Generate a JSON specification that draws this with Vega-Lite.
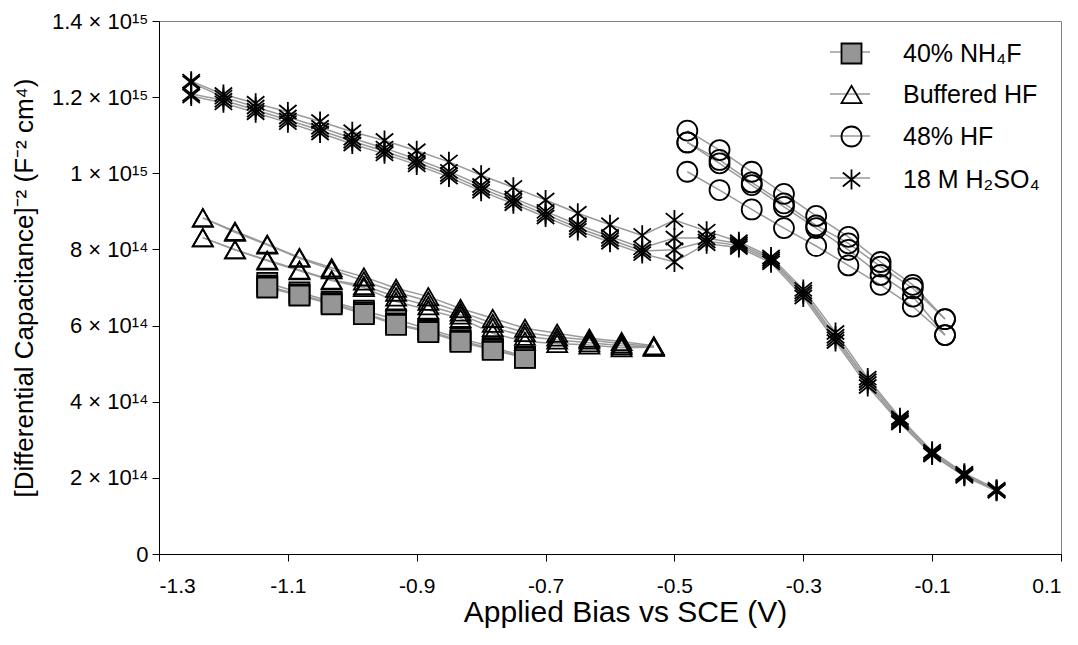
{
  "$schema": "https://vega.github.io/schema/vega-lite/v6.json",
  "width": 902,
  "height": 533,
  "autosize": {"type": "none"},
  "padding": {"left": 159, "top": 21, "right": 17, "bottom": 91},
  "background": "white",
  "config": {
    "font": "Liberation Sans",
    "view": {"stroke": "#808080", "strokeWidth": 1},
    "axis": {
      "grid": false,
      "domainColor": "black",
      "tickColor": "black",
      "labelColor": "black",
      "titleColor": "black",
      "labelFont": "Liberation Sans",
      "titleFont": "Liberation Sans",
      "titleFontWeight": "normal",
      "labelFontSize": 21,
      "titleFontSize": 26,
      "tickSize": 7,
      "domainWidth": 1,
      "tickWidth": 1
    },
    "legend": {"labelFont": "Liberation Sans", "labelColor": "black"}
  },
  "data": {
    "values": [
      {"series": "40% NH₄F", "sweep": "Q1", "bias": -1.132, "value": 7.12e14},
      {"series": "40% NH₄F", "sweep": "Q1", "bias": -1.082, "value": 6.87e14},
      {"series": "40% NH₄F", "sweep": "Q1", "bias": -1.032, "value": 6.63e14},
      {"series": "40% NH₄F", "sweep": "Q1", "bias": -0.982, "value": 6.39e14},
      {"series": "40% NH₄F", "sweep": "Q1", "bias": -0.932, "value": 6.16e14},
      {"series": "40% NH₄F", "sweep": "Q1", "bias": -0.882, "value": 5.91e14},
      {"series": "40% NH₄F", "sweep": "Q1", "bias": -0.832, "value": 5.66e14},
      {"series": "40% NH₄F", "sweep": "Q1", "bias": -0.782, "value": 5.44e14},
      {"series": "40% NH₄F", "sweep": "Q1", "bias": -0.732, "value": 5.18e14},
      {"series": "40% NH₄F", "sweep": "Q2", "bias": -1.132, "value": 7.04e14},
      {"series": "40% NH₄F", "sweep": "Q2", "bias": -1.082, "value": 6.81e14},
      {"series": "40% NH₄F", "sweep": "Q2", "bias": -1.032, "value": 6.59e14},
      {"series": "40% NH₄F", "sweep": "Q2", "bias": -0.982, "value": 6.34e14},
      {"series": "40% NH₄F", "sweep": "Q2", "bias": -0.932, "value": 6.05e14},
      {"series": "40% NH₄F", "sweep": "Q2", "bias": -0.882, "value": 5.86e14},
      {"series": "40% NH₄F", "sweep": "Q2", "bias": -0.832, "value": 5.60e14},
      {"series": "40% NH₄F", "sweep": "Q2", "bias": -0.782, "value": 5.39e14},
      {"series": "40% NH₄F", "sweep": "Q2", "bias": -0.732, "value": 5.16e14},
      {"series": "40% NH₄F", "sweep": "Q3", "bias": -1.132, "value": 7.00e14},
      {"series": "40% NH₄F", "sweep": "Q3", "bias": -1.082, "value": 6.79e14},
      {"series": "40% NH₄F", "sweep": "Q3", "bias": -1.032, "value": 6.56e14},
      {"series": "40% NH₄F", "sweep": "Q3", "bias": -0.982, "value": 6.30e14},
      {"series": "40% NH₄F", "sweep": "Q3", "bias": -0.932, "value": 6.02e14},
      {"series": "40% NH₄F", "sweep": "Q3", "bias": -0.882, "value": 5.83e14},
      {"series": "40% NH₄F", "sweep": "Q3", "bias": -0.832, "value": 5.57e14},
      {"series": "40% NH₄F", "sweep": "Q3", "bias": -0.782, "value": 5.36e14},
      {"series": "40% NH₄F", "sweep": "Q3", "bias": -0.732, "value": 5.15e14},

      {"series": "Buffered HF", "sweep": "T1", "bias": -1.232, "value": 8.83e14},
      {"series": "Buffered HF", "sweep": "T1", "bias": -1.182, "value": 8.48e14},
      {"series": "Buffered HF", "sweep": "T1", "bias": -1.132, "value": 8.14e14},
      {"series": "Buffered HF", "sweep": "T1", "bias": -1.082, "value": 7.79e14},
      {"series": "Buffered HF", "sweep": "T1", "bias": -1.032, "value": 7.52e14},
      {"series": "Buffered HF", "sweep": "T1", "bias": -0.982, "value": 7.28e14},
      {"series": "Buffered HF", "sweep": "T1", "bias": -0.932, "value": 6.98e14},
      {"series": "Buffered HF", "sweep": "T1", "bias": -0.882, "value": 6.76e14},
      {"series": "Buffered HF", "sweep": "T1", "bias": -0.832, "value": 6.45e14},
      {"series": "Buffered HF", "sweep": "T1", "bias": -0.782, "value": 6.19e14},
      {"series": "Buffered HF", "sweep": "T1", "bias": -0.732, "value": 5.93e14},
      {"series": "Buffered HF", "sweep": "T1", "bias": -0.682, "value": 5.80e14},
      {"series": "Buffered HF", "sweep": "T1", "bias": -0.632, "value": 5.67e14},
      {"series": "Buffered HF", "sweep": "T1", "bias": -0.582, "value": 5.58e14},
      {"series": "Buffered HF", "sweep": "T1", "bias": -0.532, "value": 5.47e14},
      {"series": "Buffered HF", "sweep": "T2", "bias": -1.232, "value": 8.83e14},
      {"series": "Buffered HF", "sweep": "T2", "bias": -1.182, "value": 8.45e14},
      {"series": "Buffered HF", "sweep": "T2", "bias": -1.132, "value": 8.12e14},
      {"series": "Buffered HF", "sweep": "T2", "bias": -1.082, "value": 7.77e14},
      {"series": "Buffered HF", "sweep": "T2", "bias": -1.032, "value": 7.47e14},
      {"series": "Buffered HF", "sweep": "T2", "bias": -0.982, "value": 7.17e14},
      {"series": "Buffered HF", "sweep": "T2", "bias": -0.932, "value": 6.88e14},
      {"series": "Buffered HF", "sweep": "T2", "bias": -0.882, "value": 6.64e14},
      {"series": "Buffered HF", "sweep": "T2", "bias": -0.832, "value": 6.36e14},
      {"series": "Buffered HF", "sweep": "T2", "bias": -0.782, "value": 6.06e14},
      {"series": "Buffered HF", "sweep": "T2", "bias": -0.732, "value": 5.82e14},
      {"series": "Buffered HF", "sweep": "T2", "bias": -0.682, "value": 5.70e14},
      {"series": "Buffered HF", "sweep": "T2", "bias": -0.632, "value": 5.62e14},
      {"series": "Buffered HF", "sweep": "T2", "bias": -0.582, "value": 5.52e14},
      {"series": "Buffered HF", "sweep": "T2", "bias": -0.532, "value": 5.45e14},
      {"series": "Buffered HF", "sweep": "T3", "bias": -1.232, "value": 8.31e14},
      {"series": "Buffered HF", "sweep": "T3", "bias": -1.182, "value": 7.99e14},
      {"series": "Buffered HF", "sweep": "T3", "bias": -1.132, "value": 7.72e14},
      {"series": "Buffered HF", "sweep": "T3", "bias": -1.082, "value": 7.46e14},
      {"series": "Buffered HF", "sweep": "T3", "bias": -1.032, "value": 7.20e14},
      {"series": "Buffered HF", "sweep": "T3", "bias": -0.982, "value": 7.05e14},
      {"series": "Buffered HF", "sweep": "T3", "bias": -0.932, "value": 6.75e14},
      {"series": "Buffered HF", "sweep": "T3", "bias": -0.882, "value": 6.52e14},
      {"series": "Buffered HF", "sweep": "T3", "bias": -0.832, "value": 6.28e14},
      {"series": "Buffered HF", "sweep": "T3", "bias": -0.782, "value": 5.95e14},
      {"series": "Buffered HF", "sweep": "T3", "bias": -0.732, "value": 5.72e14},
      {"series": "Buffered HF", "sweep": "T3", "bias": -0.682, "value": 5.62e14},
      {"series": "Buffered HF", "sweep": "T3", "bias": -0.632, "value": 5.55e14},
      {"series": "Buffered HF", "sweep": "T3", "bias": -0.582, "value": 5.47e14},
      {"series": "Buffered HF", "sweep": "T3", "bias": -0.532, "value": 5.44e14},
      {"series": "Buffered HF", "sweep": "T4", "bias": -1.232, "value": 8.31e14},
      {"series": "Buffered HF", "sweep": "T4", "bias": -1.182, "value": 7.99e14},
      {"series": "Buffered HF", "sweep": "T4", "bias": -1.132, "value": 7.70e14},
      {"series": "Buffered HF", "sweep": "T4", "bias": -1.082, "value": 7.44e14},
      {"series": "Buffered HF", "sweep": "T4", "bias": -1.032, "value": 7.18e14},
      {"series": "Buffered HF", "sweep": "T4", "bias": -0.982, "value": 7.00e14},
      {"series": "Buffered HF", "sweep": "T4", "bias": -0.932, "value": 6.63e14},
      {"series": "Buffered HF", "sweep": "T4", "bias": -0.882, "value": 6.41e14},
      {"series": "Buffered HF", "sweep": "T4", "bias": -0.832, "value": 6.19e14},
      {"series": "Buffered HF", "sweep": "T4", "bias": -0.782, "value": 5.80e14},
      {"series": "Buffered HF", "sweep": "T4", "bias": -0.732, "value": 5.58e14},
      {"series": "Buffered HF", "sweep": "T4", "bias": -0.682, "value": 5.53e14},
      {"series": "Buffered HF", "sweep": "T4", "bias": -0.632, "value": 5.49e14},
      {"series": "Buffered HF", "sweep": "T4", "bias": -0.582, "value": 5.42e14},
      {"series": "Buffered HF", "sweep": "T4", "bias": -0.532, "value": 5.43e14},

      {"series": "48% HF", "sweep": "C1", "bias": -0.48, "value": 11.12e14},
      {"series": "48% HF", "sweep": "C1", "bias": -0.43, "value": 10.61e14},
      {"series": "48% HF", "sweep": "C1", "bias": -0.38, "value": 10.04e14},
      {"series": "48% HF", "sweep": "C1", "bias": -0.33, "value": 9.46e14},
      {"series": "48% HF", "sweep": "C1", "bias": -0.28, "value": 8.88e14},
      {"series": "48% HF", "sweep": "C1", "bias": -0.23, "value": 8.33e14},
      {"series": "48% HF", "sweep": "C1", "bias": -0.18, "value": 7.67e14},
      {"series": "48% HF", "sweep": "C1", "bias": -0.13, "value": 7.07e14},
      {"series": "48% HF", "sweep": "C1", "bias": -0.08, "value": 6.17e14},
      {"series": "48% HF", "sweep": "C2", "bias": -0.48, "value": 10.81e14},
      {"series": "48% HF", "sweep": "C2", "bias": -0.43, "value": 10.35e14},
      {"series": "48% HF", "sweep": "C2", "bias": -0.38, "value": 9.76e14},
      {"series": "48% HF", "sweep": "C2", "bias": -0.33, "value": 9.21e14},
      {"series": "48% HF", "sweep": "C2", "bias": -0.28, "value": 8.63e14},
      {"series": "48% HF", "sweep": "C2", "bias": -0.23, "value": 8.16e14},
      {"series": "48% HF", "sweep": "C2", "bias": -0.18, "value": 7.55e14},
      {"series": "48% HF", "sweep": "C2", "bias": -0.13, "value": 6.98e14},
      {"series": "48% HF", "sweep": "C2", "bias": -0.08, "value": 6.17e14},
      {"series": "48% HF", "sweep": "C3", "bias": -0.48, "value": 10.81e14},
      {"series": "48% HF", "sweep": "C3", "bias": -0.43, "value": 10.26e14},
      {"series": "48% HF", "sweep": "C3", "bias": -0.38, "value": 9.69e14},
      {"series": "48% HF", "sweep": "C3", "bias": -0.33, "value": 9.12e14},
      {"series": "48% HF", "sweep": "C3", "bias": -0.28, "value": 8.56e14},
      {"series": "48% HF", "sweep": "C3", "bias": -0.23, "value": 7.99e14},
      {"series": "48% HF", "sweep": "C3", "bias": -0.18, "value": 7.33e14},
      {"series": "48% HF", "sweep": "C3", "bias": -0.13, "value": 6.76e14},
      {"series": "48% HF", "sweep": "C3", "bias": -0.08, "value": 5.75e14},
      {"series": "48% HF", "sweep": "C4", "bias": -0.48, "value": 10.04e14},
      {"series": "48% HF", "sweep": "C4", "bias": -0.43, "value": 9.56e14},
      {"series": "48% HF", "sweep": "C4", "bias": -0.38, "value": 9.05e14},
      {"series": "48% HF", "sweep": "C4", "bias": -0.33, "value": 8.56e14},
      {"series": "48% HF", "sweep": "C4", "bias": -0.28, "value": 8.09e14},
      {"series": "48% HF", "sweep": "C4", "bias": -0.23, "value": 7.58e14},
      {"series": "48% HF", "sweep": "C4", "bias": -0.18, "value": 7.07e14},
      {"series": "48% HF", "sweep": "C4", "bias": -0.13, "value": 6.50e14},
      {"series": "48% HF", "sweep": "C4", "bias": -0.08, "value": 5.75e14},

      {"series": "18 M H₂SO₄", "sweep": "S1", "bias": -1.25, "value": 12.42e14},
      {"series": "18 M H₂SO₄", "sweep": "S1", "bias": -1.2, "value": 12.07e14},
      {"series": "18 M H₂SO₄", "sweep": "S1", "bias": -1.15, "value": 11.84e14},
      {"series": "18 M H₂SO₄", "sweep": "S1", "bias": -1.1, "value": 11.61e14},
      {"series": "18 M H₂SO₄", "sweep": "S1", "bias": -1.05, "value": 11.36e14},
      {"series": "18 M H₂SO₄", "sweep": "S1", "bias": -1.0, "value": 11.09e14},
      {"series": "18 M H₂SO₄", "sweep": "S1", "bias": -0.95, "value": 10.86e14},
      {"series": "18 M H₂SO₄", "sweep": "S1", "bias": -0.9, "value": 10.59e14},
      {"series": "18 M H₂SO₄", "sweep": "S1", "bias": -0.85, "value": 10.30e14},
      {"series": "18 M H₂SO₄", "sweep": "S1", "bias": -0.8, "value": 9.95e14},
      {"series": "18 M H₂SO₄", "sweep": "S1", "bias": -0.75, "value": 9.63e14},
      {"series": "18 M H₂SO₄", "sweep": "S1", "bias": -0.7, "value": 9.30e14},
      {"series": "18 M H₂SO₄", "sweep": "S1", "bias": -0.65, "value": 8.95e14},
      {"series": "18 M H₂SO₄", "sweep": "S1", "bias": -0.6, "value": 8.65e14},
      {"series": "18 M H₂SO₄", "sweep": "S1", "bias": -0.55, "value": 8.37e14},
      {"series": "18 M H₂SO₄", "sweep": "S1", "bias": -0.5, "value": 8.77e14},
      {"series": "18 M H₂SO₄", "sweep": "S1", "bias": -0.45, "value": 8.48e14},
      {"series": "18 M H₂SO₄", "sweep": "S1", "bias": -0.4, "value": 8.2e14},
      {"series": "18 M H₂SO₄", "sweep": "S1", "bias": -0.35, "value": 7.8e14},
      {"series": "18 M H₂SO₄", "sweep": "S1", "bias": -0.3, "value": 6.95e14},
      {"series": "18 M H₂SO₄", "sweep": "S1", "bias": -0.25, "value": 5.82e14},
      {"series": "18 M H₂SO₄", "sweep": "S1", "bias": -0.2, "value": 4.62e14},
      {"series": "18 M H₂SO₄", "sweep": "S1", "bias": -0.15, "value": 3.58e14},
      {"series": "18 M H₂SO₄", "sweep": "S1", "bias": -0.1, "value": 2.70e14},
      {"series": "18 M H₂SO₄", "sweep": "S1", "bias": -0.05, "value": 2.12e14},
      {"series": "18 M H₂SO₄", "sweep": "S1", "bias": 0.0, "value": 1.70e14},
      {"series": "18 M H₂SO₄", "sweep": "S2", "bias": -1.25, "value": 12.38e14},
      {"series": "18 M H₂SO₄", "sweep": "S2", "bias": -1.2, "value": 12.00e14},
      {"series": "18 M H₂SO₄", "sweep": "S2", "bias": -1.15, "value": 11.74e14},
      {"series": "18 M H₂SO₄", "sweep": "S2", "bias": -1.1, "value": 11.48e14},
      {"series": "18 M H₂SO₄", "sweep": "S2", "bias": -1.05, "value": 11.21e14},
      {"series": "18 M H₂SO₄", "sweep": "S2", "bias": -1.0, "value": 10.92e14},
      {"series": "18 M H₂SO₄", "sweep": "S2", "bias": -0.95, "value": 10.66e14},
      {"series": "18 M H₂SO₄", "sweep": "S2", "bias": -0.9, "value": 10.37e14},
      {"series": "18 M H₂SO₄", "sweep": "S2", "bias": -0.85, "value": 10.05e14},
      {"series": "18 M H₂SO₄", "sweep": "S2", "bias": -0.8, "value": 9.68e14},
      {"series": "18 M H₂SO₄", "sweep": "S2", "bias": -0.75, "value": 9.35e14},
      {"series": "18 M H₂SO₄", "sweep": "S2", "bias": -0.7, "value": 9.00e14},
      {"series": "18 M H₂SO₄", "sweep": "S2", "bias": -0.65, "value": 8.65e14},
      {"series": "18 M H₂SO₄", "sweep": "S2", "bias": -0.6, "value": 8.34e14},
      {"series": "18 M H₂SO₄", "sweep": "S2", "bias": -0.55, "value": 8.04e14},
      {"series": "18 M H₂SO₄", "sweep": "S2", "bias": -0.5, "value": 8.30e14},
      {"series": "18 M H₂SO₄", "sweep": "S2", "bias": -0.45, "value": 8.30e14},
      {"series": "18 M H₂SO₄", "sweep": "S2", "bias": -0.4, "value": 8.15e14},
      {"series": "18 M H₂SO₄", "sweep": "S2", "bias": -0.35, "value": 7.75e14},
      {"series": "18 M H₂SO₄", "sweep": "S2", "bias": -0.3, "value": 6.88e14},
      {"series": "18 M H₂SO₄", "sweep": "S2", "bias": -0.25, "value": 5.72e14},
      {"series": "18 M H₂SO₄", "sweep": "S2", "bias": -0.2, "value": 4.55e14},
      {"series": "18 M H₂SO₄", "sweep": "S2", "bias": -0.15, "value": 3.53e14},
      {"series": "18 M H₂SO₄", "sweep": "S2", "bias": -0.1, "value": 2.66e14},
      {"series": "18 M H₂SO₄", "sweep": "S2", "bias": -0.05, "value": 2.09e14},
      {"series": "18 M H₂SO₄", "sweep": "S2", "bias": 0.0, "value": 1.68e14},
      {"series": "18 M H₂SO₄", "sweep": "S3", "bias": -1.25, "value": 12.08e14},
      {"series": "18 M H₂SO₄", "sweep": "S3", "bias": -1.2, "value": 11.92e14},
      {"series": "18 M H₂SO₄", "sweep": "S3", "bias": -1.15, "value": 11.66e14},
      {"series": "18 M H₂SO₄", "sweep": "S3", "bias": -1.1, "value": 11.40e14},
      {"series": "18 M H₂SO₄", "sweep": "S3", "bias": -1.05, "value": 11.13e14},
      {"series": "18 M H₂SO₄", "sweep": "S3", "bias": -1.0, "value": 10.84e14},
      {"series": "18 M H₂SO₄", "sweep": "S3", "bias": -0.95, "value": 10.58e14},
      {"series": "18 M H₂SO₄", "sweep": "S3", "bias": -0.9, "value": 10.29e14},
      {"series": "18 M H₂SO₄", "sweep": "S3", "bias": -0.85, "value": 9.97e14},
      {"series": "18 M H₂SO₄", "sweep": "S3", "bias": -0.8, "value": 9.60e14},
      {"series": "18 M H₂SO₄", "sweep": "S3", "bias": -0.75, "value": 9.27e14},
      {"series": "18 M H₂SO₄", "sweep": "S3", "bias": -0.7, "value": 8.92e14},
      {"series": "18 M H₂SO₄", "sweep": "S3", "bias": -0.65, "value": 8.57e14},
      {"series": "18 M H₂SO₄", "sweep": "S3", "bias": -0.6, "value": 8.26e14},
      {"series": "18 M H₂SO₄", "sweep": "S3", "bias": -0.55, "value": 7.96e14},
      {"series": "18 M H₂SO₄", "sweep": "S3", "bias": -0.5, "value": 7.99e14},
      {"series": "18 M H₂SO₄", "sweep": "S3", "bias": -0.45, "value": 8.22e14},
      {"series": "18 M H₂SO₄", "sweep": "S3", "bias": -0.4, "value": 8.10e14},
      {"series": "18 M H₂SO₄", "sweep": "S3", "bias": -0.35, "value": 7.70e14},
      {"series": "18 M H₂SO₄", "sweep": "S3", "bias": -0.3, "value": 6.82e14},
      {"series": "18 M H₂SO₄", "sweep": "S3", "bias": -0.25, "value": 5.65e14},
      {"series": "18 M H₂SO₄", "sweep": "S3", "bias": -0.2, "value": 4.48e14},
      {"series": "18 M H₂SO₄", "sweep": "S3", "bias": -0.15, "value": 3.48e14},
      {"series": "18 M H₂SO₄", "sweep": "S3", "bias": -0.1, "value": 2.62e14},
      {"series": "18 M H₂SO₄", "sweep": "S3", "bias": -0.05, "value": 2.06e14},
      {"series": "18 M H₂SO₄", "sweep": "S3", "bias": 0.0, "value": 1.66e14},
      {"series": "18 M H₂SO₄", "sweep": "S4", "bias": -1.25, "value": 12.03e14},
      {"series": "18 M H₂SO₄", "sweep": "S4", "bias": -1.2, "value": 11.85e14},
      {"series": "18 M H₂SO₄", "sweep": "S4", "bias": -1.15, "value": 11.59e14},
      {"series": "18 M H₂SO₄", "sweep": "S4", "bias": -1.1, "value": 11.33e14},
      {"series": "18 M H₂SO₄", "sweep": "S4", "bias": -1.05, "value": 11.06e14},
      {"series": "18 M H₂SO₄", "sweep": "S4", "bias": -1.0, "value": 10.77e14},
      {"series": "18 M H₂SO₄", "sweep": "S4", "bias": -0.95, "value": 10.51e14},
      {"series": "18 M H₂SO₄", "sweep": "S4", "bias": -0.9, "value": 10.22e14},
      {"series": "18 M H₂SO₄", "sweep": "S4", "bias": -0.85, "value": 9.90e14},
      {"series": "18 M H₂SO₄", "sweep": "S4", "bias": -0.8, "value": 9.53e14},
      {"series": "18 M H₂SO₄", "sweep": "S4", "bias": -0.75, "value": 9.20e14},
      {"series": "18 M H₂SO₄", "sweep": "S4", "bias": -0.7, "value": 8.85e14},
      {"series": "18 M H₂SO₄", "sweep": "S4", "bias": -0.65, "value": 8.50e14},
      {"series": "18 M H₂SO₄", "sweep": "S4", "bias": -0.6, "value": 8.19e14},
      {"series": "18 M H₂SO₄", "sweep": "S4", "bias": -0.55, "value": 7.89e14},
      {"series": "18 M H₂SO₄", "sweep": "S4", "bias": -0.5, "value": 7.67e14},
      {"series": "18 M H₂SO₄", "sweep": "S4", "bias": -0.45, "value": 8.15e14},
      {"series": "18 M H₂SO₄", "sweep": "S4", "bias": -0.4, "value": 8.05e14},
      {"series": "18 M H₂SO₄", "sweep": "S4", "bias": -0.35, "value": 7.65e14},
      {"series": "18 M H₂SO₄", "sweep": "S4", "bias": -0.3, "value": 6.75e14},
      {"series": "18 M H₂SO₄", "sweep": "S4", "bias": -0.25, "value": 5.58e14},
      {"series": "18 M H₂SO₄", "sweep": "S4", "bias": -0.2, "value": 4.40e14},
      {"series": "18 M H₂SO₄", "sweep": "S4", "bias": -0.15, "value": 3.44e14},
      {"series": "18 M H₂SO₄", "sweep": "S4", "bias": -0.1, "value": 2.60e14},
      {"series": "18 M H₂SO₄", "sweep": "S4", "bias": -0.05, "value": 2.04e14},
      {"series": "18 M H₂SO₄", "sweep": "S4", "bias": 0.0, "value": 1.65e14}
    ]
  },
  "encoding": {
    "x": {
      "field": "bias",
      "type": "quantitative",
      "scale": {"domain": [-1.3, 0.1], "nice": false, "zero": false},
      "axis": {
        "values": [-1.3, -1.1, -0.9, -0.7, -0.5, -0.3, -0.1, 0.1],
        "labelExpr": "'' + round(datum.value * 10) / 10",
        "title": "Applied Bias vs SCE (V)",
        "titleFontSize": 30,
        "titleX": 466,
        "labelPadding": 14,
        "titlePadding": 1
      }
    },
    "y": {
      "field": "value",
      "type": "quantitative",
      "scale": {"domain": [0, 1.4e15], "nice": false},
      "axis": {
        "values": [0, 2e14, 4e14, 6e14, 8e14, 1e15, 1.2e15, 1.4e15],
        "labelExpr": "datum.value == 0 ? '0' : (datum.value >= 1e15 ? format(datum.value / 1e15, '.1~f') + ' × 10¹⁵' : format(datum.value / 1e14, '.1~f') + ' × 10¹⁴')",
        "labelFontSize": 22,
        "title": "[Differential Capacitance]⁻² (F⁻² cm⁴)",
        "labelPadding": 4,
        "titlePadding": 14
      }
    }
  },
  "layer": [
    {
      "mark": {"type": "line", "strokeWidth": 1.5},
      "encoding": {
        "detail": {"field": "sweep"},
        "stroke": {
          "field": "series",
          "type": "nominal",
          "scale": {
            "domain": ["18 M H₂SO₄", "48% HF", "Buffered HF", "40% NH₄F"],
            "range": ["#9a9a9a", "#9a9a9a", "#9a9a9a", "#9a9a9a"]
          },
          "legend": {
            "orient": "none",
            "legendX": 670,
            "legendY": 10,
            "title": null,
            "symbolType": "stroke",
            "symbolSize": 1600,
            "symbolStrokeWidth": 1.5,
            "labelExpr": "''",
            "labelFontSize": 22,
            "rowPadding": 10,
            "padding": 0
          }
        }
      }
    },
    {
      "mark": {"type": "point", "filled": true, "size": 400, "stroke": "black", "strokeWidth": 1.8, "opacity": 1},
      "encoding": {
        "shape": {
          "field": "series",
          "type": "nominal",
          "scale": {
            "domain": ["40% NH₄F", "Buffered HF", "48% HF", "18 M H₂SO₄"],
            "range": ["square", "triangle-up", "circle", "M0,-1L0,1M-0.87,-0.7L0.87,0.7M-0.87,0.7L0.87,-0.7"]
          },
          "legend": {
            "orient": "none",
            "legendX": 680,
            "legendY": 20,
            "title": null,
            "symbolSize": 400,
            "symbolStrokeWidth": 1.8,
            "labelFontSize": 25,
            "labelOffset": 39,
            "rowPadding": 14,
            "padding": 0
          }
        },
        "color": {
          "field": "series",
          "type": "nominal",
          "scale": {
            "domain": ["40% NH₄F", "Buffered HF", "48% HF", "18 M H₂SO₄"],
            "range": ["#969696", "transparent", "transparent", "transparent"]
          },
          "legend": {
            "orient": "none",
            "legendX": 680,
            "legendY": 20,
            "title": null,
            "symbolSize": 400,
            "symbolStrokeWidth": 1.8,
            "labelFontSize": 25,
            "labelOffset": 39,
            "rowPadding": 14,
            "padding": 0
          }
        }
      }
    }
  ]
}
